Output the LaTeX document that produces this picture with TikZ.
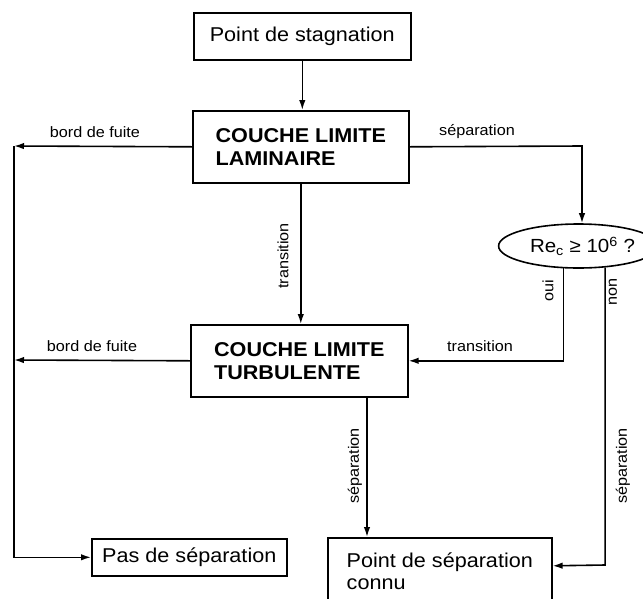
\documentclass[tikz,border=0pt]{standalone}
\usepackage{fontspec}
\setmainfont{Liberation Sans}[FakeStretch=1.08]
\usetikzlibrary{arrows.meta,shapes.geometric}

\begin{document}
\begin{tikzpicture}[x=1pt,y=-1pt,line width=1.6pt,
  box/.style={draw,rectangle,anchor=north west,align=left,
    inner sep=0pt,font=\fontsize{20}{23}\selectfont},
  titlebox/.style={box,font=\fontsize{20}{23}\selectfont\bfseries},
  test/.style={draw,ellipse,inner sep=0pt,minimum width=126pt,
    minimum height=44pt,font=\fontsize{19}{22}\selectfont},
  lbl/.style={inner sep=0pt,font=\fontsize{15}{17}\selectfont},
  arr/.style={-{Latex[length=10pt,width=6.5pt]}}]

\useasboundingbox (0,0) rectangle (643,598);
\clip (0,0) rectangle (643,598);

% boxes
\node[box,minimum width=217pt,minimum height=47pt]
  (stag) at (193,12) {Point de stagnation};
\node[titlebox,minimum width=216pt,minimum height=72pt]
  (lam) at (192,110) {COUCHE LIMITE\\LAMINAIRE};
\node[titlebox,minimum width=217pt,minimum height=72pt]
  (turb) at (190,324) {COUCHE LIMITE\\TURBULENTE};
\node[box,minimum width=195pt,minimum height=37pt]
  (pas) at (91,538) {Pas de séparation};
\node[box,minimum width=224pt,minimum height=67pt,
  font=\fontsize{20}{22}\selectfont]
  (connu) at (327,537) {Point de séparation\\connu};
\node[test] (e) at (578.5,246)
  {\hspace*{8pt}Re\textsubscript{c} ≥ 10\textsuperscript{6} ?};

% corner points of the connectors
\coordinate (bl) at (14,146);
\coordinate (bm) at (14,360);
\coordinate (sr) at (582,146);
\coordinate (cs) at (367,0);

% connectors
\draw[arr] (stag.south) -- (stag.south |- lam.north);
\draw[arr] (lam.west) -- (bl);
\draw[arr] (turb.west) -- (bm);
\draw[arr] (bl) -- (bl |- pas.west) -- (pas.west);
\draw[arr] (lam.east) -- (sr) -- (sr |- e.north);
\draw[arr] (lam.south) -- (lam.south |- turb.north);
\draw[arr] (e.236) -- (e.236 |- turb.east) -- (turb.east);
\draw[arr] (e.-39.6) -- (e.-39.6 |- 0,565) -- ([yshift=5.5pt]connu.east);
\draw[arr] (cs |- turb.south) -- (cs |- connu.north);

% labels
\node[lbl] (l1) at (95,132) {bord de fuite};
\node[lbl] (l2) at (92,346) {bord de fuite};
\node[lbl] (l3) at (477,132) {séparation};
\node[lbl] (l4) at (480,346) {transition};
\node[lbl,rotate=90] (l5) at (283,256) {transition};
\node[lbl,rotate=90] (l6) at (548,291) {oui};
\node[lbl,rotate=90] (l7) at (613,292) {non};
\node[lbl,rotate=90] (l8) at (355,466) {séparation};
\node[lbl,rotate=90] (l9) at (623,466) {séparation};
\end{tikzpicture}
\end{document}
